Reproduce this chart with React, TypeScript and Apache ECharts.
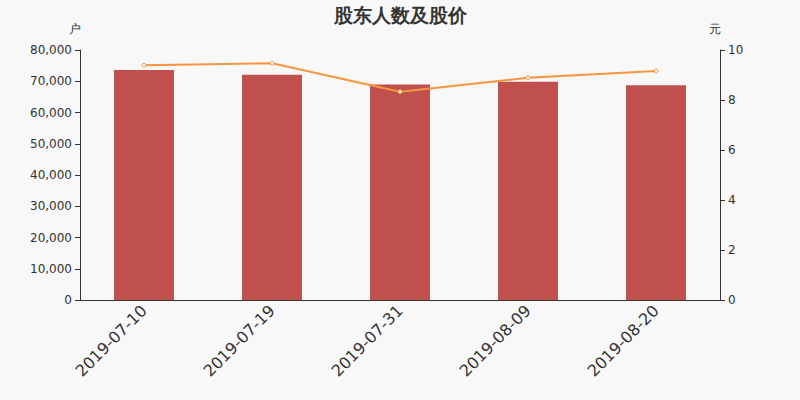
import { useEffect, useRef } from "react";
import * as echarts from "echarts";

const dates = ["2019-07-10", "2019-07-19", "2019-07-31", "2019-08-09", "2019-08-20"];
const holders = [73600, 72100, 69000, 69860, 68700];
const prices = [9.39, 9.47, 8.33, 8.89, 9.16];

const App: React.FC = () => {
  const chartRef = useRef<HTMLDivElement>(null);

  useEffect(() => {
    document.body.style.margin = "0";
    const chart = echarts.init(chartRef.current!, undefined, { renderer: "svg" });
    const axisText = { color: "#333", fontSize: 12 };
    const option: echarts.EChartsOption = {
      animation: false,
      backgroundColor: "#f8f8f8",
      textStyle: { fontFamily: "DejaVu Sans" },
      title: {
        text: "股东人数及股价",
        left: "center",
        top: 0,
        textStyle: { fontSize: 19, fontWeight: "bold", color: "#333", fontFamily: "DejaVu Sans" },
      },
      grid: { left: 80, right: 80, top: 50, bottom: 100 },
      xAxis: {
        type: "category",
        data: dates,
        axisLine: { lineStyle: { color: "#333" } },
        axisTick: { lineStyle: { color: "#333" } },
        axisLabel: { rotate: 45, fontSize: 16, color: "#333", margin: 8 },
      },
      yAxis: [
        {
          type: "value",
          name: "户",
          min: 0,
          max: 80000,
          interval: 10000,
          nameTextStyle: { color: "#333", fontSize: 12, padding: [0, 10, 0, 0] },
          axisLine: { show: true, lineStyle: { color: "#333" } },
          axisTick: { show: true },
          splitLine: { show: false },
          axisLabel: {
            ...axisText,
            formatter: (v: number) => v.toLocaleString("en-US"),
          },
        },
        {
          type: "value",
          name: "元",
          min: 0,
          max: 10,
          interval: 2,
          nameTextStyle: { color: "#333", fontSize: 12, padding: [0, 10, 0, 0] },
          axisLine: { show: true, lineStyle: { color: "#333" } },
          axisTick: { show: true },
          splitLine: { show: false },
          axisLabel: axisText,
        },
      ],
      series: [
        {
          type: "bar",
          data: holders,
          barWidth: 60,
          itemStyle: { color: "#c0504d" },
        },
        {
          type: "line",
          yAxisIndex: 1,
          data: prices,
          symbol: "circle",
          symbolSize: 4,
          lineStyle: { color: "#f7953f", width: 2 },
          itemStyle: { color: "#fff", borderColor: "#f7953f", borderWidth: 1 },
        },
      ],
    };
    chart.setOption(option);
    return () => chart.dispose();
  }, []);

  return <div ref={chartRef} style={{ width: "800px", height: "400px" }} />;
};

export default App;
